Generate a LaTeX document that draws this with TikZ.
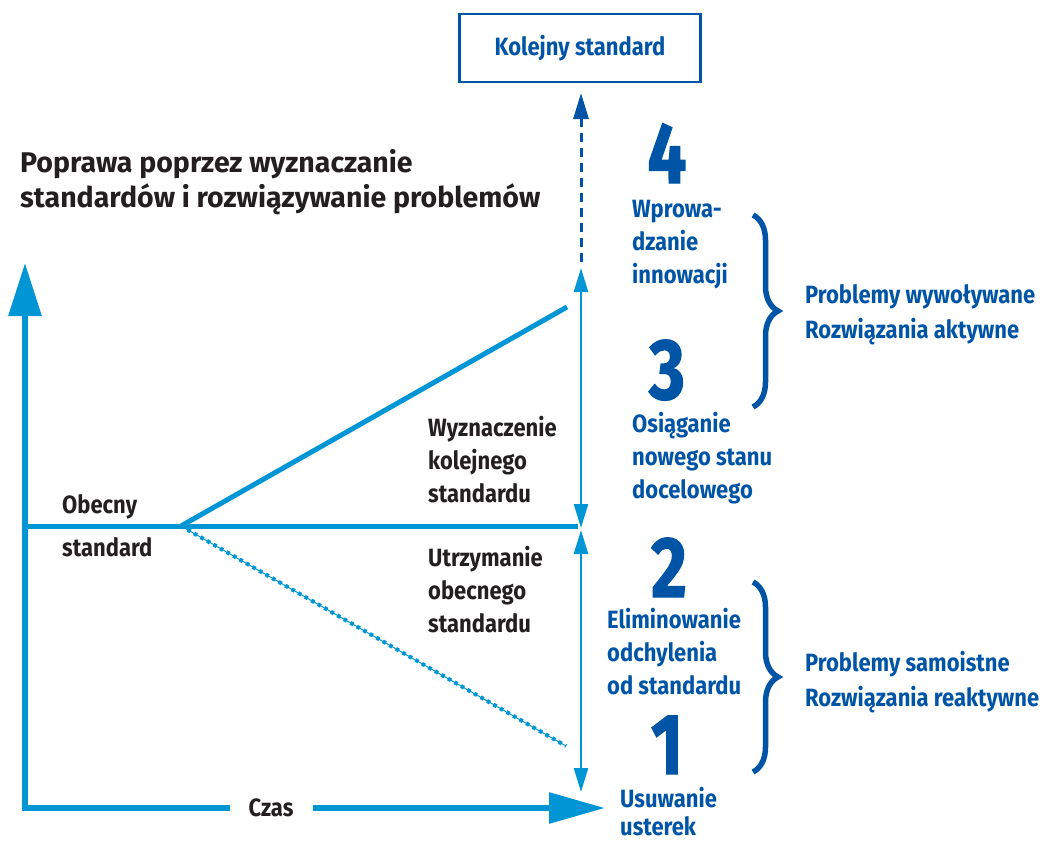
\documentclass[tikz,border=0pt]{standalone}
\usepackage{fontspec}
\setmainfont{Fira Sans}
\newfontfamily\cond{Fira Sans}[FakeStretch=0.88]
\newfontfamily\numf{Fira Sans}[FakeStretch=0.8,FakeBold=1.5]
\usetikzlibrary{arrows.meta,decorations.pathreplacing}
\definecolor{lb}{RGB}{0,150,214}
\definecolor{db}{RGB}{0,84,166}
\definecolor{tx}{RGB}{35,31,32}
\tikzset{
  axisline/.style={lb,line width=6pt,line join=miter},
  stdline/.style={lb,line width=5pt},
  dimline/.style={lb,line width=2.5pt},
  blk/.style={text=tx,font=\cond\bfseries\fontsize{25}{33}\selectfont,align=left,anchor=west,inner sep=0pt},
  blu/.style={text=db,font=\cond\bfseries\fontsize{25}{33}\selectfont,align=left,anchor=west,inner sep=0pt},
  num/.style={text=db,font=\numf\bfseries\fontsize{86}{86}\selectfont,inner sep=0pt,text height=58pt,text depth=0pt},
  brc/.style={db,line width=5.5pt,decorate,decoration={brace,amplitude=25pt}},
}
\begin{document}
\begin{tikzpicture}[x=1pt,y=-1pt]
\useasboundingbox (0,0) rectangle (1044,841);
% axes
\coordinate (O) at (25,808);
\coordinate (Ytop) at (25,263);
\coordinate (Xend) at (605,808);
\draw[axisline,{Triangle[length=53pt,width=32pt]}-{Triangle[length=56pt,width=30pt]}] (Ytop) -- (O) -- (Xend);
\node[fill=white,minimum width=83pt,minimum height=14pt,inner sep=0pt,text=tx,font=\cond\bfseries\fontsize{25}{30}\selectfont] (czas) at (271,808) {Czas};
% standard lines
\coordinate (S0) at (25,526);
\coordinate (B) at (181,526);
\coordinate (S1) at (578,526);
\coordinate (R) at (567,307);
\coordinate (D) at (566,746);
\draw[lb,line width=1pt] (B) -- (D);
\draw[lb,line width=4pt,dash pattern=on 3.5pt off 4pt] (B) -- (D);
\draw[stdline] (S0) -- (S1);
\draw[stdline] (B) -- (R);
% vertical dimension arrows
\coordinate (V1) at (581,268);
\coordinate (V2) at (581,528);
\coordinate (V3) at (581,530);
\coordinate (V4) at (581,792);
\coordinate (V0) at (581,262);
\draw[dimline,{Triangle[length=24pt,width=14pt]}-{Triangle[length=24pt,width=14pt]}] (V1) -- (V2);
\draw[dimline,{Triangle[length=24pt,width=14pt]}-{Triangle[length=24pt,width=14pt]}] (V3) -- (V4);
% top box
\node[draw=db,line width=2.2pt,minimum width=241pt,minimum height=68pt,inner sep=0pt,text=db,font=\cond\bfseries\fontsize{25}{30}\selectfont] (K) at (580,48) {Kolejny standard};
\coordinate (Ktip) at (581,93);
\draw[db,line width=3pt,dash pattern=on 9pt off 6pt,-{Triangle[length=26pt,width=15pt]}] (V0) -- (Ktip);
% title
\node[text=tx,font=\bfseries\fontsize{28.5}{35}\selectfont,align=left,anchor=west,inner sep=0pt] (title) at (20,182) {Poprawa poprzez wyznaczanie\\standardów i rozwiązywanie problemów};
% black labels
\node[blk,font=\cond\bfseries\fontsize{25}{43}\selectfont] (obecny) at (62,526) {Obecny\\standard};
\node[blk] (wyz) at (428,460) {Wyznaczenie\\kolejnego\\standardu};
\node[blk] (utr) at (428,590) {Utrzymanie\\obecnego\\standardu};
% numbers
\node[num] (n4) at (667,154) {4};
\node[num] (n3) at (667,370) {3};
\node[num] (n2) at (669,568) {2};
\node[num] (n1) at (667,745) {1};
% blue labels
\node[blu] (wpr) at (632,245) {Wprowa-\\dzanie\\innowacji};
\node[blu] (osi) at (632,458) {Osiąganie\\nowego stanu\\docelowego};
\node[blu] (eli) at (607,652) {Eliminowanie\\odchylenia\\od standardu};
\node[blu,font=\cond\bfseries\fontsize{25}{28}\selectfont] (usu) at (620,812) {Usuwanie\\usterek};
% braces
\coordinate (Ba) at (753,215);
\coordinate (Bb) at (753,407);
\coordinate (Bc) at (753,582);
\coordinate (Bd) at (753,772);
\draw[brc] (Ba) -- (Bb);
\draw[brc] (Bc) -- (Bd);
\node[blu,font=\cond\bfseries\fontsize{25}{35}\selectfont] (pw) at (805,315) {Problemy wywoływane\\Rozwiązania aktywne};
\node[blu,font=\cond\bfseries\fontsize{25}{35}\selectfont] (ps) at (805,682) {Problemy samoistne\\Rozwiązania reaktywne};
\end{tikzpicture}
\end{document}
